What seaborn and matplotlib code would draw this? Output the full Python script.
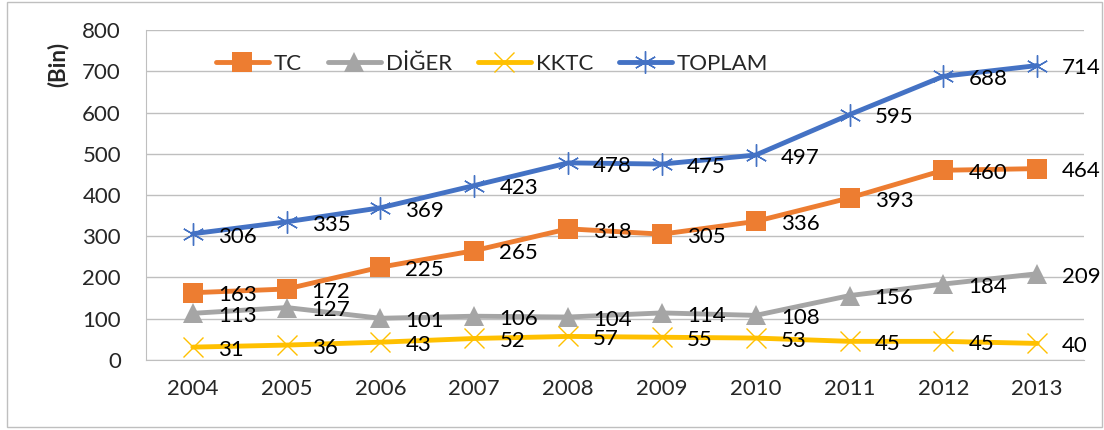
import matplotlib
matplotlib.use("Agg")
import matplotlib.pyplot as plt
import seaborn as sns
from matplotlib.patches import Rectangle

# Chart data
years = ["2004", "2005", "2006", "2007", "2008", "2009", "2010", "2011", "2012", "2013"]
tc = [163, 172, 225, 265, 318, 305, 336, 393, 460, 464]
diger = [113, 127, 101, 106, 104, 114, 108, 156, 184, 209]
kktc = [31, 36, 43, 52, 57, 55, 53, 45, 45, 40]
toplam = [306, 335, 369, 423, 478, 475, 497, 595, 688, 714]

series_names = ["TC", "DİĞER", "KKTC", "TOPLAM"]
series_values = [tc, diger, kktc, toplam]
colors = ["#ED7D31", "#A5A5A5", "#FFC000", "#4472C4"]

sns.set_style("white")
plt.rcParams["font.family"] = ["Lato", "DejaVu Sans"]
FS = 16

fig = plt.figure(figsize=(11.04, 4.3), dpi=100)
ax = fig.add_axes([0.1322, 0.163, 0.982 - 0.1322, 0.930 - 0.163])

pos = list(range(len(years)))
styles = [
    dict(marker="s", markersize=14, markeredgewidth=0),
    dict(marker="^", markersize=14, markeredgewidth=0),
    dict(marker="x", markersize=14, markeredgewidth=1.0),
    dict(marker=(6, 2, 0), markersize=16, markeredgewidth=1.0),
]

for name, vals, col, st in zip(series_names, series_values, colors, styles):
    sns.lineplot(x=pos, y=vals, ax=ax, color=col, linewidth=3.5, label=name,
                 markeredgecolor=col, solid_capstyle="round", **st)
    for i, v in zip(pos, vals):
        ax.annotate(str(v), (i, v), xytext=(18, -2), textcoords="offset points",
                    ha="left", va="center", fontsize=FS, color="black")

ax.set_xlim(-0.5, 9.5)
ax.set_ylim(0, 800)
ax.set_yticks(range(0, 801, 100))
ax.set_xticks(pos)
ax.set_xticklabels(years)
ax.set_xticks([p - 0.5 for p in range(len(years) + 1)], minor=True)
ax.tick_params(axis="x", which="major", length=0, pad=14, labelsize=FS)
ax.tick_params(axis="x", which="minor", length=7, color="#BFBFBF", width=1)
ax.tick_params(axis="y", length=6, color="#BFBFBF", width=1, pad=12, labelsize=FS)
ax.grid(axis="y", color="#BFBFBF", linewidth=1)
ax.set_axisbelow(True)
for s in ["top", "right"]:
    ax.spines[s].set_visible(False)
ax.spines["left"].set_color("#BFBFBF")
ax.spines["bottom"].set_color("#BFBFBF")
ax.set_xlabel("")
ax.set_ylabel("")

leg = ax.legend(loc="upper left", bbox_to_anchor=(0.065, 0.955), ncol=4, frameon=False,
                fontsize=FS, handlelength=2.4, handletextpad=0.22, columnspacing=1.15,
                borderaxespad=0)

fig.text(58 / 1104, 1 - 64 / 430, "(Bin)", rotation=90, ha="center", va="center",
         fontsize=16, fontweight="bold")

fig.patches.append(Rectangle((7 / 1104, 3 / 430), 1095 / 1104, 425 / 430,
                             transform=fig.transFigure, fill=False,
                             edgecolor="#BFBFBF", linewidth=1))

fig.savefig("out.png", dpi=100)
